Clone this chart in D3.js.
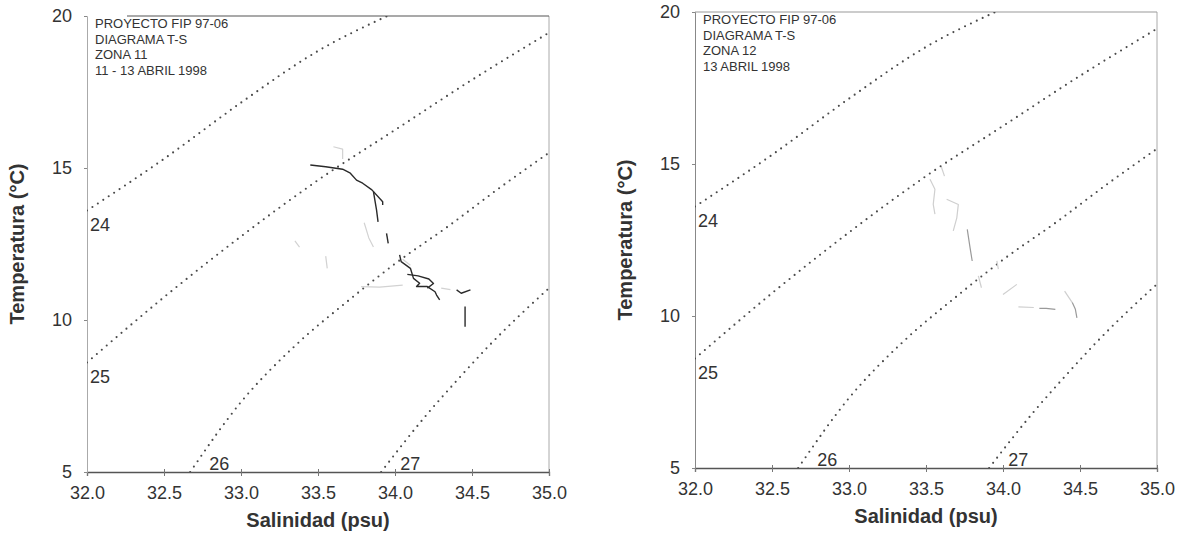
<!DOCTYPE html>
<html><head><meta charset="utf-8">
<script src="https://cdn.jsdelivr.net/npm/d3@7"></script>
<style>
html,body{margin:0;padding:0;background:#fff;}
svg{display:block;font-family:"Liberation Sans",Arial,sans-serif;}
</style></head>
<body>
<svg id="c" width="1184" height="536"></svg>
<script>
// ---------- data ----------
const xTicks = [32.0, 32.5, 33.0, 33.5, 34.0, 34.5, 35.0];
const yTicks = [5, 10, 15, 20];
const isoLabels = ["24", "25", "26", "27"];
// isopycnal curves, [salinity, temperature]
const iso24 = [[32,13.6],[32.5,15.3],[33,17.15],[33.5,18.85],[33.95,20]];
const iso25 = [[32,8.6],[32.5,10.75],[33,12.75],[33.5,14.6],[34,16.25],[34.5,17.9],[35,19.45]];
const iso26 = [[32.67,5],[33,7.3],[33.34,9.1],[33.7,10.65],[34,11.85],[34.35,13.1],[34.68,14.35],[35,15.5]];
const iso27 = [[33.91,5],[34.2,6.85],[34.4,8.0],[34.6,9.1],[35,11.05]];
const infoLeft  = ["PROYECTO FIP 97-06", "DIAGRAMA T-S", "ZONA 11", "11 - 13 ABRIL 1998"];
const infoRight = ["PROYECTO FIP 97-06", "DIAGRAMA T-S", "ZONA 12", "13 ABRIL 1998"];
// T-S profile traces, zona 11
const z11Dark = [
  [[33.45,15.10],[33.55,15.04],[33.66,14.96],[33.71,14.83],[33.75,14.60],[33.79,14.50],[33.85,14.28],[33.92,13.89],[33.92,13.78]],
  [[33.86,14.22],[33.88,13.62],[33.89,13.23]],
  [[33.945,12.85],[33.956,12.52]],
  [[34.03,12.14],[34.04,11.92],[34.10,11.70],[34.12,11.37],[34.16,11.21],[34.14,11.10],[34.21,11.10],[34.26,10.93],[34.27,10.82],[34.29,10.66]],
  [[34.08,11.50],[34.15,11.45],[34.22,11.35],[34.25,11.20],[34.21,11.05]],
  [[34.40,10.99],[34.43,10.88],[34.49,10.99]],
  [[34.455,10.44],[34.455,9.78]]
];
const z11Faint = [
  [[33.60,15.70],[33.66,15.62],[33.66,15.30]],
  [[33.80,13.20],[33.83,12.70],[33.86,12.40]],
  [[33.55,12.10],[33.56,11.70]],
  [[33.78,11.10],[33.90,11.08],[34.05,11.15]],
  [[34.30,11.05],[34.36,11.00]],
  [[33.35,12.60],[33.38,12.40]],
  [[34.10,11.80],[34.05,12.00]]
];
// T-S profile traces, zona 12
const z12Mid = [
  [[33.768,12.85],[33.786,12.25],[33.80,11.81]],
  [[34.236,10.25],[34.28,10.25],[34.34,10.22]],
  [[34.45,10.44],[34.47,10.22],[34.48,9.94]]
];
const z12Faint = [
  [[33.526,14.50],[33.558,14.17],[33.547,13.67],[33.558,13.35]],
  [[33.634,13.84],[33.71,13.67],[33.70,13.23],[33.677,12.80]],
  [[33.84,11.32],[33.86,10.93]],
  [[33.96,11.81],[33.97,11.54]],
  [[34.00,10.71],[34.09,11.04]],
  [[34.40,10.82],[34.45,10.44]],
  [[34.10,10.30],[34.20,10.28]],
  [[33.60,14.90],[33.62,14.60]]
];

// ---------- drawing ----------
const svg = d3.select("#c");
const TXT = "#333";

function panel(cfg) {
  const x = d3.scaleLinear().domain([32, 35]).range([cfg.x0, cfg.x1]);
  const y = d3.scaleLinear().domain([5, 20]).range([cfg.y0, cfg.y1]);
  const g = svg.append("g");
  const clipId = "clip" + cfg.id;
  svg.append("clipPath").attr("id", clipId).append("rect")
    .attr("x", cfg.x0).attr("y", cfg.y1).attr("width", cfg.x1 - cfg.x0).attr("height", cfg.y0 - cfg.y1);

  // frame
  g.append("line").attr("x1", cfg.x1).attr("x2", cfg.x1).attr("y1", cfg.y1).attr("y2", cfg.y0)
    .attr("stroke", "#aaa").attr("stroke-width", 1);
  g.append("line").attr("x1", cfg.x0 + cfg.topStart).attr("x2", cfg.x1).attr("y1", cfg.y1).attr("y2", cfg.y1)
    .attr("stroke", cfg.topColor).attr("stroke-width", 1.2);

  // axes
  const xa = g.append("g").attr("transform", `translate(0,${cfg.y0})`)
    .call(d3.axisBottom(x).tickValues(xTicks).tickFormat(d3.format(".1f")).tickSize(4).tickPadding(10));
  xa.select(".domain").attr("stroke", "#555").attr("stroke-width", 1.3);
  xa.selectAll(".tick line").attr("stroke", "#777").attr("y1", -3);
  xa.selectAll("text").attr("font-size", 18).attr("fill", TXT).attr("font-family", "Liberation Sans, Arial, sans-serif");

  const ya = g.append("g").attr("transform", `translate(${cfg.x0},0)`)
    .call(d3.axisLeft(y).tickValues(yTicks).tickFormat(d3.format("d")).tickSize(3).tickPadding(12));
  ya.select(".domain").attr("stroke", cfg.yAxisColor);
  ya.selectAll(".tick line").attr("stroke", "#888");
  ya.selectAll("text").attr("font-size", 18).attr("fill", TXT).attr("font-family", "Liberation Sans, Arial, sans-serif");

  // axis titles
  g.append("text").attr("x", (cfg.x0 + cfg.x1) / 2).attr("y", cfg.y0 + 55)
    .attr("text-anchor", "middle").attr("font-size", 20).attr("font-weight", "bold").attr("fill", TXT)
    .text("Salinidad (psu)");
  g.append("text").attr("transform", `translate(${cfg.ytx},${(cfg.y0 + cfg.y1) / 2}) rotate(-90)`)
    .attr("text-anchor", "middle").attr("font-size", 20).attr("font-weight", "bold").attr("fill", TXT)
    .text("Temperatura (°C)");

  // isopycnals
  const line = d3.line().x(d => x(d[0])).y(d => y(d[1])).curve(d3.curveMonotoneX);
  const isos = [iso24, iso25, iso26, iso27];
  const ig = g.append("g").attr("clip-path", `url(#${clipId})`);
  isos.forEach(c => {
    ig.append("path").attr("d", line(c)).attr("fill", "none")
      .attr("stroke", "#4a4a4a").attr("stroke-width", 2.1).attr("stroke-linecap", "round")
      .attr("stroke-dasharray", "0,6.5");
  });
  // isopycnal labels
  isos.forEach((c, i) => {
    const p = c[0];
    const onLeft = p[0] <= 32.0001;
    g.append("text")
      .attr("x", x(p[0]) + (onLeft ? 3 : 19))
      .attr("y", y(p[1]) + (onLeft ? 20 : -2))
      .attr("font-size", 18).attr("fill", TXT)
      .text(isoLabels[i]);
  });

  // traces
  const tline = d3.line().x(d => x(d[0])).y(d => y(d[1]));
  const tg = g.append("g").attr("clip-path", `url(#${clipId})`);
  cfg.faint.forEach(s => tg.append("path").attr("d", tline(s)).attr("fill", "none")
    .attr("stroke", cfg.faintColor).attr("stroke-width", 1.2).attr("stroke-linejoin", "round"));
  cfg.dark.forEach(s => tg.append("path").attr("d", tline(s)).attr("fill", "none")
    .attr("stroke", cfg.darkColor).attr("stroke-width", cfg.darkWidth).attr("stroke-linejoin", "round"));

  // info text
  const it = g.append("text").attr("font-size", 13).attr("fill", TXT);
  cfg.info.forEach((t, i) => {
    it.append("tspan").attr("x", cfg.x0 + 8).attr("y", cfg.y1 + 12 + i * 15.5).text(t);
  });
}

panel({id: "L", x0: 87, x1: 549, y0: 472, y1: 16, ytx: 24, topColor: "#555", topStart: 40, yAxisColor: "#aaa",
  info: infoLeft, dark: z11Dark, faint: z11Faint, darkColor: "#2a2a2a", darkWidth: 1.4, faintColor: "#d2d2d2"});
panel({id: "R", x0: 695, x1: 1157, y0: 468, y1: 12, ytx: 632, topColor: "#999", topStart: 0, yAxisColor: "#888",
  info: infoRight, dark: z12Mid, faint: z12Faint, darkColor: "#9a9a9a", darkWidth: 1.2, faintColor: "#cfcfcf"});
</script>
</body></html>
